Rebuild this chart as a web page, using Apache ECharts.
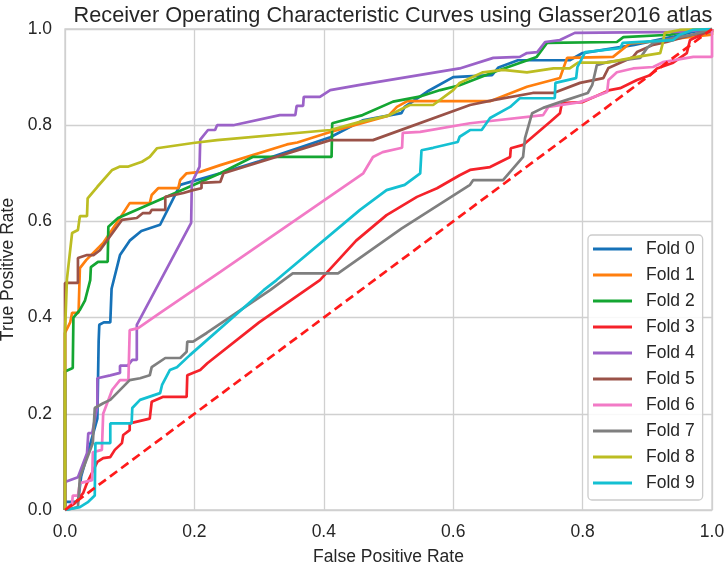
<!DOCTYPE html>
<html>
<head>
<meta charset="utf-8">
<script src="https://cdn.jsdelivr.net/npm/echarts@6/dist/echarts.min.js"></script>
<style>
    html, body { margin: 0; padding: 0; background: #ffffff; }
    #chartRoc { width: 726px; height: 562px; }
</style>
</head>
<body>
<div id="chartRoc"></div>
<script>
// ROC points [fpr, tpr]
var fold0 = [[0,0],[0,0.017],[0.02,0.017],[0.025,0.07],[0.05,0.19],[0.052,0.35],[0.053,0.385],[0.06,0.39],[0.07,0.39],[0.072,0.46],[0.085,0.53],[0.1,0.56],[0.118,0.58],[0.147,0.593],[0.178,0.676],[0.24,0.70],[0.3,0.725],[0.41,0.775],[0.46,0.81],[0.52,0.825],[0.525,0.838],[0.56,0.87],[0.6,0.9],[0.66,0.904],[0.67,0.92],[0.7,0.935],[0.78,0.935],[0.8,0.95],[0.88,0.967],[0.94,0.984],[0.97,0.994],[1,1]];
var fold1 = [[0,0],[0,0.368],[0.008,0.39],[0.011,0.41],[0.021,0.41],[0.023,0.503],[0.033,0.52],[0.059,0.555],[0.085,0.607],[0.1,0.638],[0.131,0.638],[0.134,0.655],[0.144,0.669],[0.175,0.669],[0.178,0.686],[0.188,0.70],[0.209,0.703],[0.24,0.717],[0.343,0.76],[0.359,0.764],[0.41,0.786],[0.5,0.82],[0.513,0.838],[0.529,0.85],[0.657,0.85],[0.714,0.88],[0.765,0.898],[0.776,0.94],[0.847,0.942],[0.873,0.97],[0.91,0.974],[0.97,0.984],[1,0.988],[1,1]];
var fold2 = [[0,0],[0,0.288],[0.012,0.295],[0.013,0.40],[0.023,0.416],[0.031,0.436],[0.039,0.478],[0.04,0.505],[0.051,0.516],[0.066,0.516],[0.067,0.589],[0.082,0.607],[0.24,0.70],[0.29,0.734],[0.412,0.734],[0.413,0.804],[0.46,0.821],[0.507,0.849],[0.55,0.86],[0.58,0.873],[0.61,0.883],[0.662,0.91],[0.729,0.942],[0.745,0.971],[0.853,0.973],[0.863,0.983],[0.935,0.988],[0.97,0.998],[1,1]];
var fold3 = [[0,0],[0.015,0.014],[0.028,0.035],[0.034,0.056],[0.05,0.10],[0.059,0.108],[0.07,0.11],[0.077,0.125],[0.088,0.139],[0.09,0.156],[0.1,0.166],[0.1,0.18],[0.131,0.19],[0.134,0.225],[0.151,0.235],[0.188,0.235],[0.189,0.28],[0.209,0.291],[0.22,0.305],[0.30,0.39],[0.394,0.478],[0.45,0.56],[0.497,0.613],[0.544,0.651],[0.575,0.669],[0.61,0.696],[0.626,0.707],[0.657,0.713],[0.688,0.734],[0.689,0.752],[0.708,0.759],[0.75,0.807],[0.765,0.825],[0.768,0.846],[0.8,0.848],[0.842,0.873],[0.858,0.877],[0.884,0.894],[0.904,0.904],[0.915,0.918],[0.94,0.93],[0.961,0.95],[0.966,0.977],[0.977,0.984],[1,1]];
var fold4 = [[0,0],[0,0.058],[0.02,0.068],[0.034,0.118],[0.036,0.16],[0.042,0.16],[0.05,0.215],[0.05,0.274],[0.07,0.28],[0.085,0.285],[0.085,0.30],[0.097,0.30],[0.104,0.312],[0.111,0.312],[0.111,0.385],[0.195,0.597],[0.196,0.68],[0.208,0.714],[0.209,0.77],[0.221,0.79],[0.232,0.79],[0.235,0.80],[0.26,0.80],[0.332,0.821],[0.356,0.821],[0.358,0.84],[0.368,0.84],[0.369,0.859],[0.394,0.859],[0.41,0.873],[0.456,0.884],[0.61,0.918],[0.662,0.94],[0.703,0.942],[0.714,0.95],[0.73,0.952],[0.742,0.973],[0.765,0.977],[0.788,0.992],[0.95,0.994],[1,1]];
var fold5 = [[0,0],[0,0.472],[0.02,0.472],[0.02,0.524],[0.034,0.53],[0.044,0.53],[0.054,0.54],[0.088,0.603],[0.111,0.607],[0.12,0.617],[0.131,0.617],[0.134,0.624],[0.155,0.624],[0.155,0.651],[0.183,0.659],[0.198,0.665],[0.211,0.669],[0.211,0.68],[0.24,0.682],[0.245,0.70],[0.41,0.769],[0.476,0.769],[0.626,0.842],[0.662,0.852],[0.723,0.867],[0.755,0.867],[0.796,0.888],[0.832,0.898],[0.84,0.919],[0.878,0.942],[0.884,0.952],[0.909,0.967],[0.93,0.973],[0.97,0.988],[1,0.994],[1,1]];
var fold6 = [[0,0],[0.011,0.014],[0.012,0.03],[0.02,0.03],[0.023,0.056],[0.042,0.062],[0.043,0.12],[0.057,0.125],[0.059,0.2],[0.073,0.25],[0.085,0.27],[0.098,0.27],[0.1,0.374],[0.113,0.378],[0.147,0.41],[0.24,0.495],[0.461,0.70],[0.476,0.734],[0.491,0.744],[0.521,0.753],[0.522,0.784],[0.549,0.786],[0.626,0.804],[0.739,0.821],[0.747,0.838],[0.796,0.848],[0.838,0.869],[0.84,0.894],[0.853,0.91],[0.878,0.918],[0.909,0.921],[0.924,0.931],[0.971,0.942],[1,0.942],[1,1]];
var fold7 = [[0,0],[0.02,0.006],[0.023,0.068],[0.043,0.139],[0.046,0.212],[0.059,0.222],[0.07,0.229],[0.1,0.27],[0.116,0.274],[0.131,0.28],[0.134,0.297],[0.155,0.316],[0.178,0.316],[0.188,0.329],[0.189,0.35],[0.198,0.35],[0.219,0.368],[0.317,0.457],[0.343,0.483],[0.352,0.492],[0.422,0.492],[0.52,0.585],[0.626,0.676],[0.631,0.686],[0.677,0.686],[0.708,0.734],[0.711,0.773],[0.722,0.825],[0.739,0.836],[0.765,0.848],[0.808,0.867],[0.815,0.884],[0.822,0.925],[0.838,0.931],[0.889,0.94],[0.9,0.961],[0.909,0.971],[0.94,0.981],[0.97,0.988],[1,1]];
var fold8 = [[0,0],[0,0.37],[0.003,0.48],[0.011,0.576],[0.02,0.582],[0.023,0.611],[0.034,0.611],[0.035,0.648],[0.05,0.672],[0.073,0.707],[0.085,0.714],[0.098,0.714],[0.119,0.724],[0.131,0.734],[0.142,0.752],[0.198,0.763],[0.235,0.769],[0.41,0.79],[0.456,0.807],[0.5,0.82],[0.533,0.842],[0.569,0.842],[0.6,0.873],[0.61,0.888],[0.646,0.91],[0.677,0.915],[0.714,0.91],[0.755,0.918],[0.78,0.918],[0.793,0.93],[0.838,0.93],[0.884,0.942],[0.92,0.95],[0.924,0.971],[0.927,0.992],[0.95,0.998],[1,1]];
var fold9 = [[0,0],[0.023,0.006],[0.036,0.017],[0.046,0.03],[0.047,0.139],[0.07,0.139],[0.07,0.18],[0.103,0.18],[0.104,0.212],[0.116,0.229],[0.147,0.243],[0.15,0.26],[0.162,0.291],[0.173,0.297],[0.193,0.322],[0.307,0.457],[0.327,0.478],[0.456,0.624],[0.497,0.665],[0.525,0.676],[0.549,0.70],[0.551,0.748],[0.569,0.753],[0.607,0.765],[0.61,0.776],[0.626,0.79],[0.644,0.79],[0.657,0.815],[0.688,0.838],[0.703,0.856],[0.757,0.856],[0.758,0.888],[0.79,0.898],[0.792,0.921],[0.804,0.952],[0.858,0.96],[0.862,0.971],[0.94,0.977],[0.95,0.988],[0.97,0.998],[1,1]];
var chance = [[0,0],[1,1]];

var foldNames = ['Fold 0', 'Fold 1', 'Fold 2', 'Fold 3', 'Fold 4', 'Fold 5', 'Fold 6', 'Fold 7', 'Fold 8', 'Fold 9'];
var foldData = [fold0, fold1, fold2, fold3, fold4, fold5, fold6, fold7, fold8, fold9];
var foldColors = ['#1672b8', '#ff7f0e', '#14a632', '#f5222a', '#9b62c8', '#9a5248', '#f27ac6', '#7f7f7f', '#bcbd22', '#14c0d2'];

var fontName = '"Liberation Sans", Arial, sans-serif';
var textColor = '#262626';
var gridColor = '#d0d0d0';

var chartRoc = echarts.init(document.getElementById('chartRoc'), null, {renderer: 'canvas'});

var seriesList = [];
for (var i = 0; i < foldData.length; i++) {
    seriesList.push({
        name: foldNames[i],
        type: 'line',
        data: foldData[i],
        symbol: 'none',
        smooth: false,
        lineStyle: {color: foldColors[i], width: 2.7},
        itemStyle: {color: foldColors[i]},
        z: 2 + i
    });
}
// chance line
seriesList.push({
    name: 'chance',
    type: 'line',
    data: chance,
    symbol: 'none',
    lineStyle: {color: '#ff1a1a', width: 2.7, type: [9, 5]},
    z: 20
});

function axisFor(name, gap) {
    return {
        type: 'value',
        min: 0,
        max: 1,
        interval: 0.2,
        name: name,
        nameLocation: 'middle',
        nameGap: gap,
        nameTextStyle: {fontFamily: fontName, fontSize: 17.5, color: textColor},
        axisLine: {show: false},
        axisTick: {show: false},
        axisLabel: {
            fontFamily: fontName,
            fontSize: 17.5,
            color: textColor,
            margin: 13,
            formatter: function (v) { return v.toFixed(1); }
        },
        splitLine: {show: true, lineStyle: {color: gridColor, width: 1.3}}
    };
}

var chartRocOption = {
    backgroundColor: '#ffffff',
    animation: false,
    title: {
        text: 'Receiver Operating Characteristic Curves using Glasser2016 atlas',
        left: 388,
        top: 0,
        textAlign: 'center',
        textStyle: {fontFamily: fontName, fontSize: 21.7, fontWeight: 'normal', color: textColor}
    },
    grid: {
        left: 65,
        right: 14,
        top: 29,
        bottom: 52,
        show: true,
        borderColor: gridColor,
        borderWidth: 1.3,
        containLabel: false,
        outerBoundsMode: 'none'
    },
    legend: {
        data: foldNames,
        orient: 'vertical',
        left: 588,
        top: 235,
        padding: [5, 8, 8, 5],
        icon: 'rect',
        itemWidth: 39,
        itemHeight: 3,
        itemGap: 8,
        backgroundColor: 'rgba(255,255,255,0.85)',
        borderColor: '#cccccc',
        borderWidth: 1.3,
        borderRadius: 4,
        textStyle: {fontFamily: fontName, fontSize: 17.5, lineHeight: 18, color: textColor, padding: [0, 0, 0, 9]}
    },
    xAxis: axisFor('False Positive Rate', 38),
    yAxis: axisFor('True Positive Rate', 43),
    series: seriesList
};
chartRoc.setOption(chartRocOption);
</script>
</body>
</html>
